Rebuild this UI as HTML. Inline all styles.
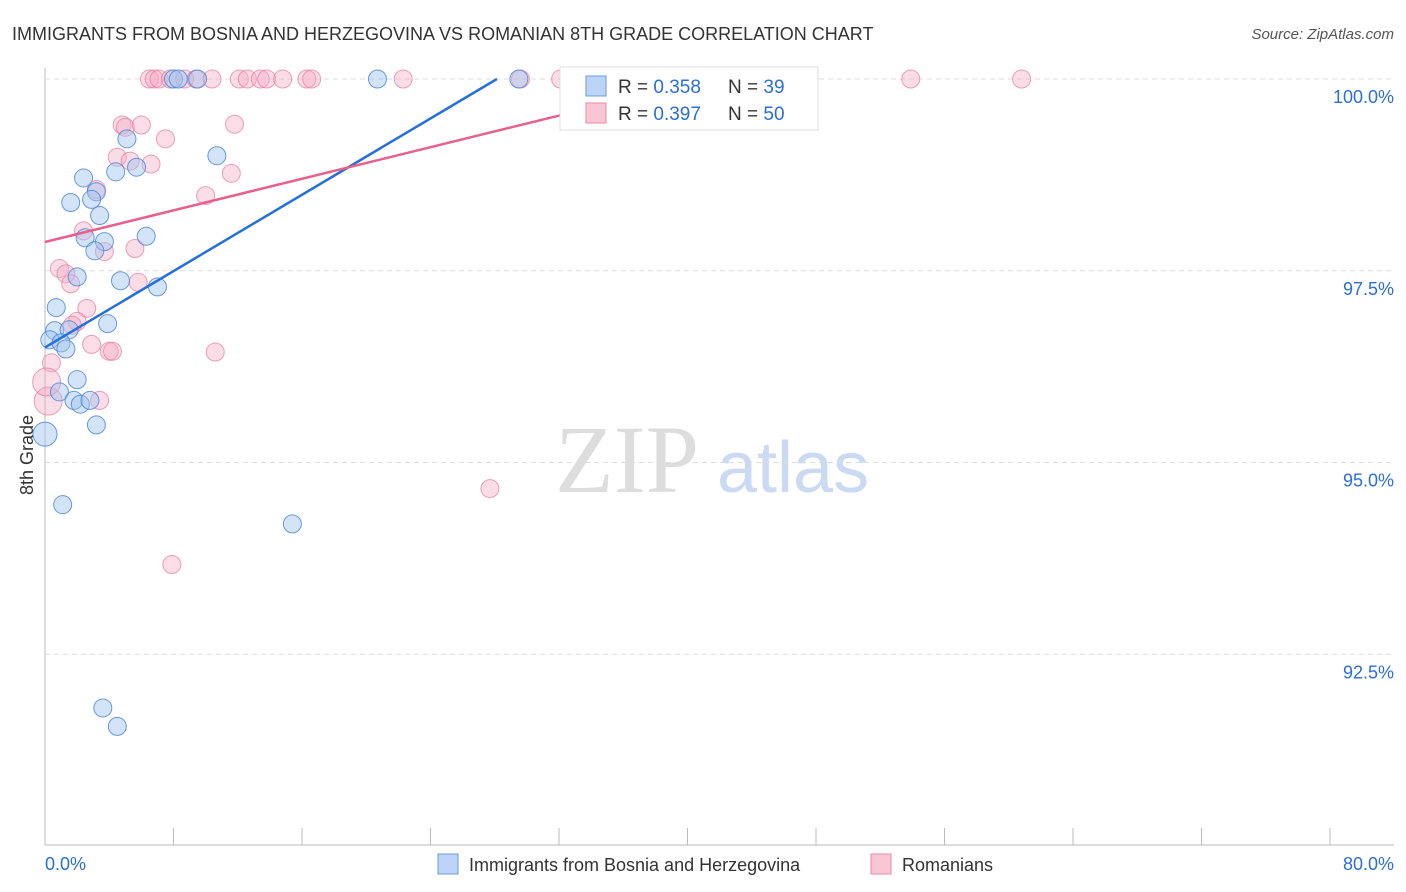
<!DOCTYPE html>
<html><head><meta charset="utf-8"><style>
body{margin:0;background:#fff;font-family:"Liberation Sans",sans-serif}
svg{display:block}
</style></head><body>
<svg id="chart" width="1406" height="892">
<text x="12" y="40" font-size="18" fill="#333">IMMIGRANTS FROM BOSNIA AND HERZEGOVINA VS ROMANIAN 8TH GRADE CORRELATION CHART</text>
<text x="1394" y="39" font-size="15" fill="#555" text-anchor="end" font-style="italic">Source: ZipAtlas.com</text>
<text x="33" y="455" font-size="18" fill="#333" text-anchor="middle" transform="rotate(-90 33 455)">8th Grade</text>
<text x="555" y="492" font-size="96" fill="#ddd" font-family="Liberation Serif">ZIP</text>
<text x="717" y="492" font-size="72" fill="#c9daf2">atlas</text>
<g id="grid"></g><g id="pts"></g><g id="lines"></g>
<g>
<rect x="560" y="67" width="258" height="63" fill="#fff" stroke="#ddd"/>
<rect x="586" y="76" width="20" height="20" fill="#bcd4f6" stroke="#6a9be0"/>
<rect x="586" y="103" width="20" height="20" fill="#f9c6d6" stroke="#e88aa8"/>
<text x="618" y="93" font-size="19" fill="#333">R = <tspan fill="#2b6ed6">0.358</tspan></text>
<text x="728" y="93" font-size="19" fill="#333">N = <tspan fill="#2b6ed6"> 39</tspan></text>
<text x="618" y="120" font-size="19" fill="#333">R = <tspan fill="#2b6ed6">0.397</tspan></text>
<text x="728" y="120" font-size="19" fill="#333">N = <tspan fill="#2b6ed6">50</tspan></text>
</g>
<g>
<rect x="438" y="854" width="20" height="20" fill="#bcd4f6" stroke="#6a9be0"/>
<text x="469" y="871" font-size="18" fill="#333">Immigrants from Bosnia and Herzegovina</text>
<rect x="871" y="854" width="20" height="20" fill="#f9c6d6" stroke="#e88aa8"/>
<text x="902" y="871" font-size="18" fill="#333">Romanians</text>
</g>
<text x="45" y="870" font-size="18" fill="#2b6ed6">0.0%</text>
<text x="1394" y="870" font-size="18" fill="#2b6ed6" text-anchor="end">80.0%</text>
</svg>
<script>
const yTicks=[100,97.5,95,92.5];
const yTickLabels=["100.0%","97.5%","95.0%","92.5%"];
const blueX=[8.0,8.3,20.7,29.5,5.1,10.7,4.4,5.7,2.4,3.2,1.6,2.9,3.4,2.5,3.7,6.3,3.1,2.0,4.7,7.0,0.7,3.9,0.6,1.5,0.3,1.0,1.3,2.0,0.9,1.8,2.2,2.8,3.2,0.0,1.1,15.4,3.6,4.5,9.5];
const blueY=[100,100,100,100,99.22,99.0,98.79,98.85,98.71,98.53,98.39,98.43,98.22,97.93,97.88,97.95,97.76,97.42,97.37,97.29,97.02,96.81,96.72,96.73,96.6,96.56,96.48,96.08,95.92,95.81,95.76,95.81,95.49,95.37,94.45,94.2,91.8,91.56,100];
const pinkX=[6.5,6.8,7.1,7.8,8.7,9.4,10.4,12.1,12.6,13.4,13.8,14.8,16.3,16.6,22.3,29.6,32.1,53.9,60.8,4.8,5.0,6.0,11.8,7.5,4.5,5.3,6.6,11.6,3.2,10.0,2.4,3.7,5.6,0.9,1.3,1.6,5.8,2.6,2.0,1.7,2.9,4.0,4.2,10.6,0.4,0.2,3.4,27.7,7.9,0.1];
const pinkY=[100,100,100,100,100,100,100,100,100,100,100,100,100,100,100,100,100,100,100,99.4,99.37,99.4,99.41,99.22,98.98,98.93,98.89,98.77,98.56,98.48,98.02,97.75,97.79,97.53,97.46,97.33,97.35,97.01,96.84,96.79,96.54,96.45,96.45,96.44,96.3,95.8,95.81,94.66,93.67,96.05];
const blueLine=[96.5,0.1244];
const pinkLine=[97.875,0.0515];
const NS="http://www.w3.org/2000/svg";
const xs=v=>45+v/80*1285, ys=v=>79+(100-v)*76.7;
function mk(t,a,p){const e=document.createElementNS(NS,t);for(const k in a)e.setAttribute(k,a[k]);p.appendChild(e);return e;}
const grid=document.getElementById('grid');
const ax=mk('line',{x1:45,y1:68,x2:45,y2:845,stroke:'#bbb'},grid);


const bx=mk('line',{x1:45,y1:845,x2:1394,y2:845,stroke:'#bbb'},grid);


for(let i=1;i<=10;i++){const x=45+i*128.5;const t=mk('line',{x1:x,y1:828,x2:x,y2:845,stroke:'#bbb'},grid);

}
yTicks.forEach((v,i)=>{const g=mk('line',{x1:45,y1:ys(v),x2:1394,y2:ys(v),stroke:'#ddd','stroke-dasharray':'5,4'},grid);


const t=mk('text',{x:1394,y:ys(v)+24,'font-size':18,fill:'#2b6ed6','text-anchor':'end'},grid);t.textContent=yTickLabels[i];

});
const pts=document.getElementById('pts');
pinkX.forEach((v,i)=>{const c=mk('circle',{cx:xs(v),cy:ys(pinkY[i]),r:(v<0.3&&i>40)?14:9,fill:'rgba(246,170,196,0.4)',stroke:'rgba(232,120,156,0.7)','stroke-width':1},pts);

});
blueX.forEach((v,i)=>{const c=mk('circle',{cx:xs(v),cy:ys(blueY[i]),r:v<0.1?12:9,fill:'rgba(160,196,240,0.45)',stroke:'rgba(70,130,220,0.8)','stroke-width':1},pts);

});
const lines=document.getElementById('lines');
const bEnd=(100-blueLine[0])/blueLine[1];
const bl=mk('line',{x1:xs(0),y1:ys(blueLine[0]),x2:xs(bEnd),y2:ys(100),stroke:'#2470d8','stroke-width':2.5},lines);


const pl=mk('line',{x1:xs(0),y1:ys(pinkLine[0]),x2:xs(34),y2:ys(pinkLine[0]+pinkLine[1]*34),stroke:'#e8608c','stroke-width':2.5},lines);


</script>
</body></html>
